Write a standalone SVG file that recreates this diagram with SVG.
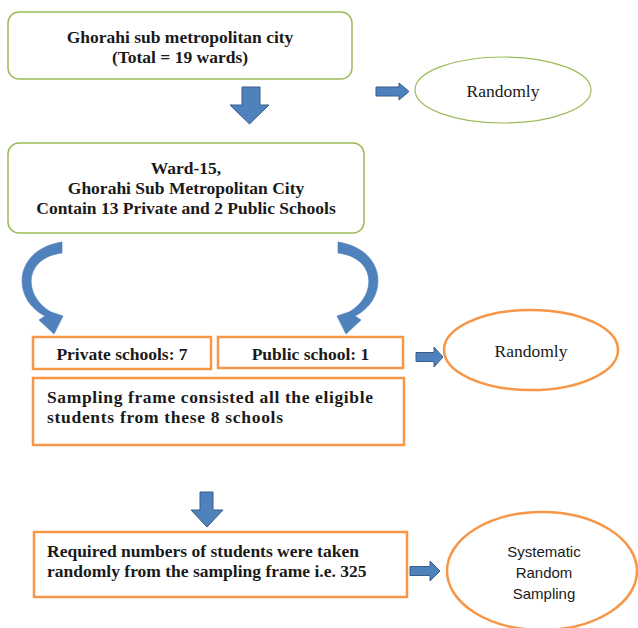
<svg xmlns="http://www.w3.org/2000/svg" width="638" height="628" viewBox="0 0 638 628">
<style>
.gbox{fill:#fff;stroke:#9bbb59;stroke-width:1.5}
.obox{fill:#fff;stroke:#f79646;stroke-width:2.5}
.gell{fill:#fff;stroke:#9bbb59;stroke-width:1.2}
.oell{fill:#fff;stroke:#f79646;stroke-width:2.5}
.arr{fill:#4f81bd;stroke:#385d8a;stroke-width:1}
.carr{fill:#4f81bd;stroke:#4a7ab5;stroke-width:0.6}
.t{font-family:"Liberation Serif","Times New Roman",serif;font-weight:bold;font-size:17.5px;fill:#1a1a1a}
.r{font-family:"Liberation Serif","Times New Roman",serif;font-size:17.5px;fill:#1a1a1a}
.s{font-family:"Liberation Sans",Arial,sans-serif;font-size:15px;fill:#1a1a1a}
</style>
<rect width="638" height="628" fill="#fff"/>
<g id="connectors">
<path class="arr" d="M242,87 H260 V105 H269 L249.5,124 L230,105 H242 Z"/>
<path class="arr" d="M376,87 H399 V83 L409,91.5 L399,100 V96 H376 Z"/>
<path class="carr" d="M62,242 C12,250 12,300 45,316 L39,320 L54,334 L63,316 L51,312 C23,296 23,258 62,253 Z"/>
<path class="carr" transform="translate(400,0) scale(-1,1)" d="M62,242 C12,250 12,300 45,316 L39,320 L54,334 L63,316 L51,312 C23,296 23,258 62,253 Z"/>
<path class="arr" d="M416,352.5 H434 V347 L443,357 L434,367 V361.5 H416 Z"/>
<path class="arr" d="M200,492 H213 V510 H223 L207,527 L191,510 H200 Z"/>
<path class="arr" d="M410,566.5 H430 V561 L440,571 L430,581 V575.5 H410 Z"/>
</g>
<g id="city">
<rect class="gbox" x="8" y="12" width="344" height="67" rx="11"/>
<text class="t" x="180" y="43" text-anchor="middle">Ghorahi sub metropolitan city</text>
<text class="t" x="180" y="63" text-anchor="middle">(Total = 19 wards)</text>
</g>
<g id="randomly1">
<ellipse class="gell" cx="503" cy="90" rx="88" ry="33"/>
<text class="r" x="503" y="97" text-anchor="middle">Randomly</text>
</g>
<g id="ward">
<rect class="gbox" x="8" y="143" width="356" height="90" rx="11"/>
<text class="t" x="186" y="174" text-anchor="middle">Ward-15,</text>
<text class="t" x="186" y="194" text-anchor="middle">Ghorahi Sub Metropolitan City</text>
<text class="t" x="186" y="214" text-anchor="middle">Contain 13 Private and 2 Public Schools</text>
</g>
<g id="private">
<rect class="obox" x="33" y="337" width="178" height="32"/>
<text class="t" x="122" y="360" text-anchor="middle">Private schools: 7</text>
</g>
<g id="public">
<rect class="obox" x="218" y="337" width="185" height="31"/>
<text class="t" x="310.5" y="360" text-anchor="middle">Public school: 1</text>
</g>
<g id="randomly2">
<ellipse class="oell" cx="531" cy="350" rx="87" ry="40"/>
<text class="r" x="531" y="357" text-anchor="middle">Randomly</text>
</g>
<g id="frame">
<rect class="obox" x="33" y="378" width="371" height="67"/>
<text class="t" x="47" y="403" textLength="326" lengthAdjust="spacing">Sampling frame consisted all the eligible</text>
<text class="t" x="47" y="423" textLength="236" lengthAdjust="spacing">students from these 8 schools</text>
</g>
<g id="required">
<rect class="obox" x="34" y="532" width="373" height="65"/>
<text class="t" x="47" y="557">Required numbers of students were taken</text>
<text class="t" x="47" y="577">randomly from the sampling frame i.e. 325</text>
</g>
<g id="systematic">
<ellipse class="oell" cx="542" cy="571" rx="95" ry="59"/>
<text class="s" x="544" y="557" text-anchor="middle">Systematic</text>
<text class="s" x="544" y="578" text-anchor="middle">Random</text>
<text class="s" x="544" y="599" text-anchor="middle">Sampling</text>
</g>
</svg>
